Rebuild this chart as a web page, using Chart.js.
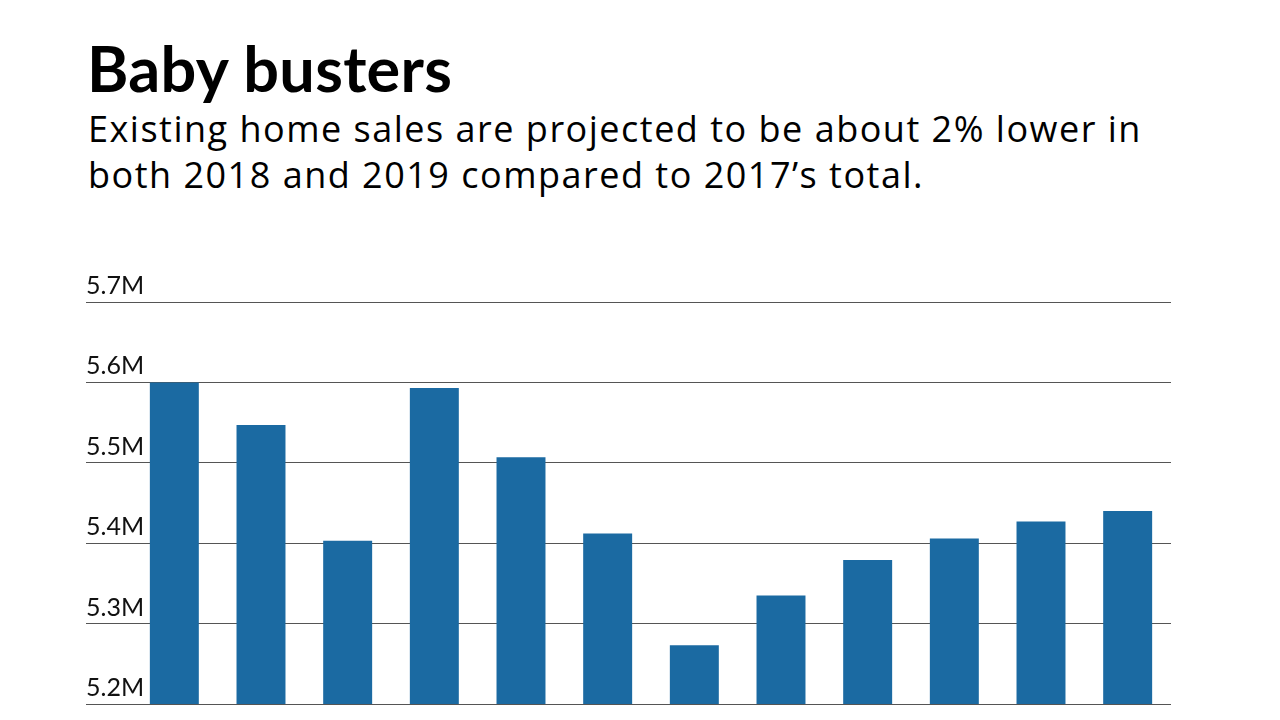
<!DOCTYPE html>
<html>
<head>
<meta charset="utf-8">
<script src="https://cdn.jsdelivr.net/npm/chart.js@4/dist/chart.umd.min.js"></script>
<style>
  html, body { margin: 0; padding: 0; background: #fff; }
  body { width: 1280px; height: 720px; position: relative; overflow: hidden; font-family: Lato, "Open Sans", sans-serif; color: #000; }
  h1 { position: absolute; left: 87px; top: 36px; margin: 0; font-size: 63px; font-weight: 700; line-height: 1; letter-spacing: 0.3px; }
  .sub { position: absolute; left: 88px; top: 106px; margin: 0; font-family: "Open Sans", sans-serif; font-size: 36px; line-height: 46px; letter-spacing: 1.5px; width: 1190px; }
  #wrap { position: absolute; left: 0; top: 0; width: 1280px; height: 720px; }
</style>
</head>
<body>
<h1>Baby busters</h1>
<p class="sub">Existing home sales are projected to be about 2% lower in<br>both 2018 and 2019 compared to 2017’s total.</p>
<div id="wrap"><canvas id="chartCanvas"></canvas></div>
<script>
// quarterly existing home sales (seasonally adjusted annual rate, millions)
const quarters = ['Q1 2017', 'Q2 2017', 'Q3 2017', 'Q4 2017',
                  'Q1 2018', 'Q2 2018', 'Q3 2018', 'Q4 2018',
                  'Q1 2019', 'Q2 2019', 'Q3 2019', 'Q4 2019'];
const sales = [5.60, 5.547, 5.403, 5.593, 5.507, 5.412, 5.273, 5.335, 5.379, 5.406, 5.427, 5.44];
const yTicks = [5.2, 5.3, 5.4, 5.5, 5.6, 5.7];

const ctx = document.getElementById('chartCanvas').getContext('2d');
new Chart(ctx, {
  type: 'bar',
  data: {
    labels: quarters,
    datasets: [{
      data: sales,
      backgroundColor: '#1b6aa2',
      borderWidth: 0,
      categoryPercentage: 1,
      barPercentage: 0.565
    }]
  },
  options: {
    responsive: true,
    maintainAspectRatio: false,
    animation: false,
    layout: { padding: { left: 86, right: 109, top: 302, bottom: 16 } },
    plugins: { legend: { display: false }, tooltip: { enabled: false } },
    scales: {
      x: { display: false },
      y: {
        min: 5.2,
        max: 5.7,
        afterBuildTicks: (axis) => { axis.ticks = yTicks.map(v => ({ value: v })); },
        afterFit: (axis) => { axis.width = 45; },
        border: { display: false },
        grid: { color: '#555', lineWidth: 1, drawTicks: true, tickLength: 45 },
        ticks: {
          mirror: true,
          crossAlign: 'near',
          labelOffset: -16,
          padding: -45,
          color: '#111',
          font: { family: 'Lato', size: 25 },
          callback: (v) => v.toFixed(1) + 'M'
        }
      }
    }
  }
});
</script>
</body>
</html>
